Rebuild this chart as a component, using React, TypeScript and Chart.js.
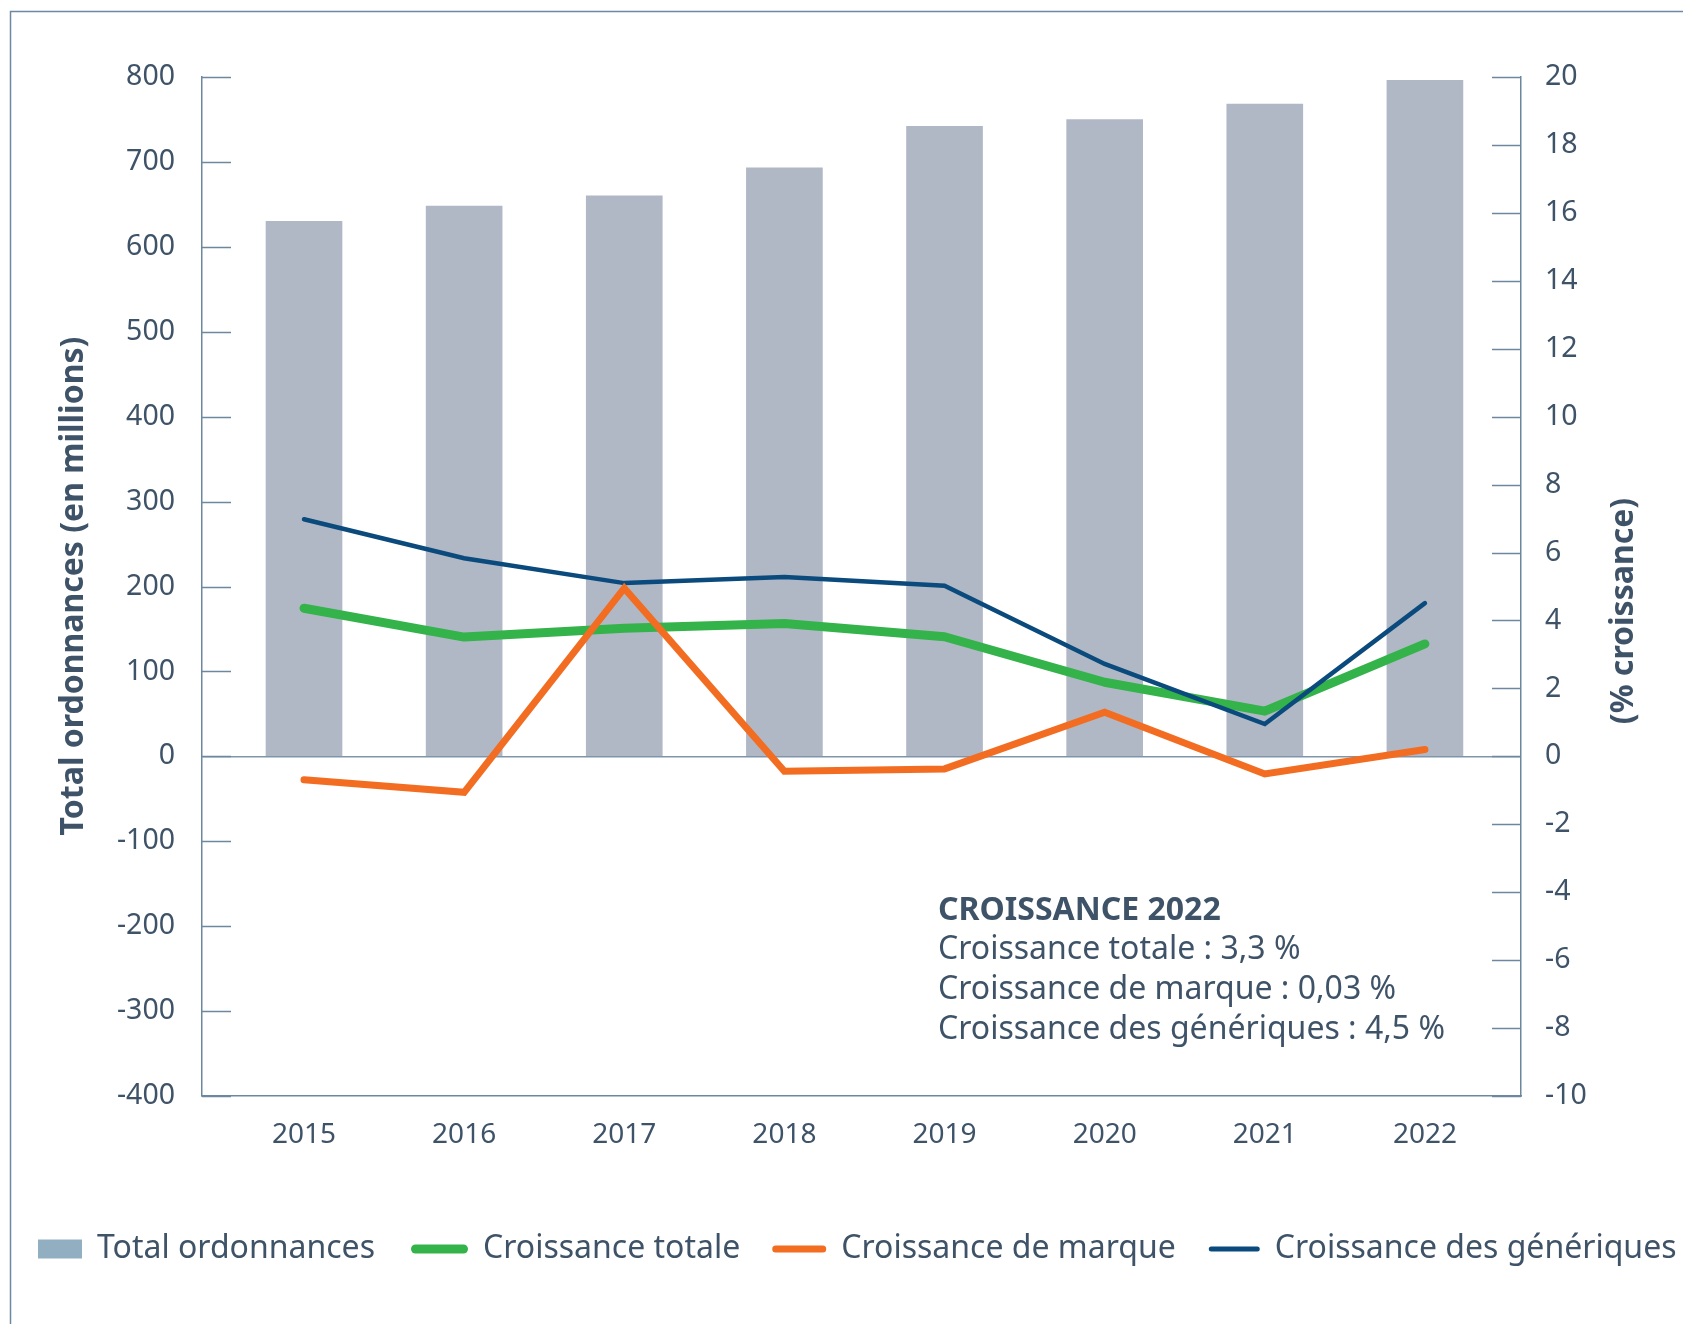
import { useEffect, useRef } from "react";
import { Chart, registerables } from "chart.js";

Chart.register(...registerables);

// ---------- data ----------
const years = ["2015", "2016", "2017", "2018", "2019", "2020", "2021", "2022"];
const totalOrdonnances = [630, 648, 660, 693, 742, 750, 768, 796];
const croissanceTotale = [4.36, 3.51, 3.77, 3.91, 3.52, 2.18, 1.33, 3.31];
const croissanceMarque = [-0.69, -1.06, 4.95, -0.44, -0.37, 1.3, -0.52, 0.2];
const croissanceGeneriques = [6.98, 5.83, 5.1, 5.28, 5.02, 2.72, 0.95, 4.51];

const leftAxisRange = [-400, 800];
const leftAxisStep = 100;
const rightAxisRange = [-10, 20];
const rightAxisStep = 2;

const leftTitle = "Total ordonnances (en millions)";
const rightTitle = "(% croissance)";
const annotationTitle = "CROISSANCE 2022";
const annotationLines = [
  "Croissance totale : 3,3 %",
  "Croissance de marque : 0,03 %",
  "Croissance des génériques : 4,5 %",
];

// ---------- styles ----------
const FONT = "'Noto Sans', 'Open Sans', sans-serif";
const TEXT = "#3f5368";
const AXIS = "#6e87a0";
const BAR = "#b0b8c6";
const BAR_LEGEND = "#91afc1";
const GREEN = "#33b34a";
const ORANGE = "#f26d21";
const BLUE = "#0b4a7c";

const legendStyles = [
  { kind: "rect", color: BAR_LEGEND, w: 44, h: 19, gap: 36 },
  { kind: "line", color: GREEN, w: 57, lw: 9, gap: 32 },
  { kind: "line", color: ORANGE, w: 54, lw: 7, gap: 33 },
  { kind: "line", color: BLUE, w: 51, lw: 5, gap: 0 },
];

const decorPlugin = {
  id: "decor",
  afterDraw(chart: any) {
    const ctx = chart.ctx as CanvasRenderingContext2D;
    const { left, right } = chart.chartArea;
    const yL = chart.scales.y;
    const yR = chart.scales.y1;
    ctx.save();

    // outer frame (left + top)
    ctx.strokeStyle = "#6d88a3";
    ctx.lineWidth = 1.5;
    ctx.beginPath();
    ctx.moveTo(10.5, chart.height);
    ctx.lineTo(10.5, 11.5);
    ctx.lineTo(chart.width, 11.5);
    ctx.stroke();

    // inward tick marks
    ctx.strokeStyle = AXIS;
    ctx.lineWidth = 1.5;
    ctx.beginPath();
    yL.ticks.forEach((t: any) => {
      const p = Math.round(yL.getPixelForValue(t.value)) + 0.5;
      ctx.moveTo(left, p);
      ctx.lineTo(left + 29, p);
    });
    yR.ticks.forEach((t: any) => {
      const p = Math.round(yR.getPixelForValue(t.value)) + 0.5;
      ctx.moveTo(right - 29, p);
      ctx.lineTo(right, p);
    });
    ctx.stroke();

    // axis titles
    ctx.fillStyle = TEXT;
    ctx.font = `bold 32px ${FONT}`;
    ctx.textAlign = "center";
    ctx.textBaseline = "middle";
    ctx.save();
    ctx.translate(74, 586);
    ctx.rotate(-Math.PI / 2);
    ctx.fillText(leftTitle, 0, 0);
    ctx.restore();
    ctx.save();
    ctx.translate(1624, 611);
    ctx.rotate(-Math.PI / 2);
    ctx.fillText(rightTitle, 0, 0);
    ctx.restore();

    // annotation
    ctx.textAlign = "left";
    ctx.font = `bold 32px ${FONT}`;
    ctx.fillText(annotationTitle, 938, 911);
    ctx.font = `32px ${FONT}`;
    annotationLines.forEach((l, i) => ctx.fillText(l, 938, 950 + i * 39.7));

    // legend
    const cy = 1249;
    let x = 38;
    ctx.font = `32px ${FONT}`;
    chart.data.datasets.forEach((ds: any, i: number) => {
      const st: any = legendStyles[i];
      if (st.kind === "rect") {
        ctx.fillStyle = st.color;
        ctx.fillRect(x, cy - st.h / 2, st.w, st.h);
      } else {
        ctx.strokeStyle = st.color;
        ctx.lineWidth = st.lw;
        ctx.lineCap = "round";
        ctx.beginPath();
        ctx.moveTo(x + st.lw / 2, cy);
        ctx.lineTo(x + st.w - st.lw / 2, cy);
        ctx.stroke();
      }
      x += st.w + 15;
      ctx.fillStyle = TEXT;
      ctx.fillText(ds.label, x, cy);
      x += ctx.measureText(ds.label).width + st.gap;
    });

    ctx.restore();
  },
};

export default function App() {
  const ref = useRef<HTMLCanvasElement | null>(null);

  useEffect(() => {
    if (!ref.current) return;
    const pts = (arr: number[]) => arr.map((v, i) => ({ x: i, y: v }));
    const lineCommon = {
      type: "line" as const,
      yAxisID: "y1",
      pointRadius: 0,
      pointHoverRadius: 0,
      borderCapStyle: "round" as const,
      tension: 0,
      fill: false,
    };
    const chart = new Chart(ref.current, {
      type: "bar",
      data: {
        datasets: [
          {
            type: "bar",
            label: "Total ordonnances",
            data: pts(totalOrdonnances),
            backgroundColor: BAR,
            barThickness: 76,
            yAxisID: "y",
            order: 4,
          } as any,
          {
            ...lineCommon,
            label: "Croissance totale",
            data: pts(croissanceTotale),
            borderColor: GREEN,
            backgroundColor: GREEN,
            borderWidth: 9,
            borderJoinStyle: "round",
            order: 3,
          },
          {
            ...lineCommon,
            label: "Croissance de marque",
            data: pts(croissanceMarque),
            borderColor: ORANGE,
            backgroundColor: ORANGE,
            borderWidth: 7,
            borderJoinStyle: "miter",
            order: 1,
          },
          {
            ...lineCommon,
            label: "Croissance des génériques",
            data: pts(croissanceGeneriques),
            borderColor: BLUE,
            backgroundColor: BLUE,
            borderWidth: 4.5,
            borderJoinStyle: "miter",
            order: 2,
          },
        ],
      },
      options: {
        animation: false,
        responsive: true,
        maintainAspectRatio: false,
        layout: { padding: { top: 77, left: 0, right: 0, bottom: 0 } },
        plugins: { legend: { display: false }, tooltip: { enabled: false } },
        scales: {
          x: {
            type: "linear",
            offset: false,
            min: -0.637,
            max: 7.6,
            afterBuildTicks: (s: any) => {
              s.ticks = years.map((_, i) => ({ value: i }));
            },
            afterFit: (s: any) => {
              s.height = 228;
            },
            ticks: {
              callback: (v: any) => years[v as number] ?? "",
              autoSkip: false,
              maxRotation: 0,
              font: { family: FONT, size: 28 },
              color: TEXT,
              padding: 22,
            },
            grid: { display: false, drawTicks: false, offset: false },
            border: { display: true, color: AXIS, width: 1.5 },
          },
          y: {
            position: "left",
            min: leftAxisRange[0],
            max: leftAxisRange[1],
            afterFit: (s: any) => {
              s.width = 202;
            },
            ticks: {
              stepSize: leftAxisStep,
              font: { family: FONT, size: 28.5 },
              color: TEXT,
              padding: 27,
            },
            grid: {
              drawTicks: false,
              lineWidth: 1.5,
              color: (c: any) => (c.tick && c.tick.value === 0 ? "#8195aa" : "rgba(0,0,0,0)"),
            },
            border: { display: true, color: AXIS, width: 1.5 },
          },
          y1: {
            position: "right",
            min: rightAxisRange[0],
            max: rightAxisRange[1],
            afterFit: (s: any) => {
              s.width = 162;
            },
            ticks: {
              stepSize: rightAxisStep,
              font: { family: FONT, size: 28.5 },
              color: TEXT,
              padding: 24,
            },
            grid: { display: false, drawTicks: false },
            border: { display: true, color: AXIS, width: 1.5 },
          },
        },
      } as any,
      plugins: [decorPlugin],
    });
    return () => chart.destroy();
  }, []);

  return (
    <div style={{ position: "absolute", left: 0, top: 0, width: 1683, height: 1324, background: "#fff" }}>
      <canvas ref={ref} style={{ display: "block" }} />
    </div>
  );
}
